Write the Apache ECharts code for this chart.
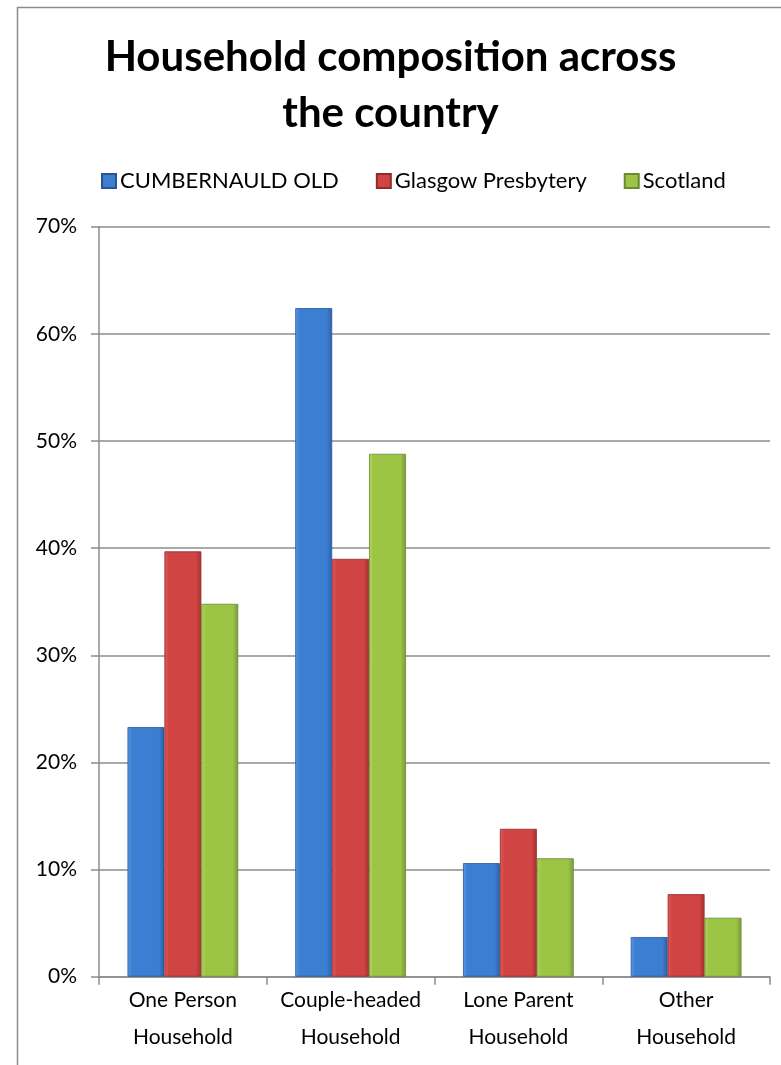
<!DOCTYPE html>
<html><head><meta charset="utf-8">
<script src="https://cdn.jsdelivr.net/npm/echarts@6/dist/echarts.min.js"></script>
<style>html,body{margin:0;padding:0;background:#fff}#c{width:781px;height:1065px}</style>
</head><body><div id="c"></div>
<script>
const categories = ['One Person\nHousehold', 'Couple-headed\nHousehold', 'Lone Parent\nHousehold', 'Other\nHousehold'];
const seriesNames = ['CUMBERNAULD OLD', 'Glasgow Presbytery', 'Scotland'];
const cumbernauldOld = [23.3, 62.4, 10.6, 3.7];
const glasgowPresbytery = [39.7, 39.0, 13.8, 7.7];
const scotland = [34.8, 48.8, 11.05, 5.5];
const yTicks = [0, 10, 20, 30, 40, 50, 60, 70];

function grad(light, mid, dark) {
  return new echarts.graphic.LinearGradient(0, 0, 1, 0, [
    {offset: 0, color: light}, {offset: 0.12, color: mid}, {offset: 0.85, color: mid}, {offset: 1, color: dark}
  ]);
}
const styles = [
  {c: grad('#5a9be6', '#3c7fd2', '#2d5ea8'), b: '#2a5592'},
  {c: grad('#e25a58', '#d04444', '#a83030'), b: '#922a2a'},
  {c: grad('#b4d65a', '#9cc445', '#78993a'), b: '#6a8a30'}
];
const data = [cumbernauldOld, glasgowPresbytery, scotland];
const font = 'Lato, "Open Sans", sans-serif';

const chart = echarts.init(document.getElementById('c'));
chart.setOption({
  animation: false,
  graphic: [{type: 'rect', shape: {x: 17.5, y: 7.5, width: 900, height: 1200}, style: {fill: 'none', stroke: '#8c8c8c', lineWidth: 1.5}, z: 100}],
  title: {
    text: 'Household composition across\nthe country', left: 'center', top: 24,
    textStyle: {fontFamily: font, fontWeight: 'bold', fontSize: 42, lineHeight: 56, color: '#000'}
  },
  legend: {
    top: 165, left: 96, itemGap: 37, itemWidth: 14, itemHeight: 14, icon: 'rect',
    textStyle: {fontFamily: font, fontSize: 22, color: '#000', padding: [0, 0, 0, -1]},
    data: seriesNames
  },
  grid: {left: 99, right: 11, top: 226.7, bottom: 88.3, containLabel: false},
  xAxis: {
    type: 'category', data: categories,
    axisLine: {lineStyle: {color: '#8c8c8c', width: 1.5}},
    axisTick: {show: true, length: 8, lineStyle: {color: '#8c8c8c', width: 1.5}},
    axisLabel: {interval: 0, fontFamily: font, fontSize: 21, color: '#000', lineHeight: 37, margin: 5}
  },
  yAxis: {
    type: 'value', min: yTicks[0], max: yTicks[yTicks.length - 1], interval: 10,
    axisLine: {show: true, lineStyle: {color: '#8c8c8c', width: 1.5}},
    axisTick: {show: true, length: 8, lineStyle: {color: '#8c8c8c', width: 1.5}},
    splitLine: {lineStyle: {color: '#8c8c8c', width: 1.5}},
    axisLabel: {fontFamily: font, fontSize: 21, color: '#000', margin: 22, formatter: '{value}%'}
  },
  series: seriesNames.map((n, i) => ({
    name: n, type: 'bar', data: data[i], barGap: '0%', barCategoryGap: '34%',
    itemStyle: {color: styles[i].c, borderColor: styles[i].b, borderWidth: 0.8}
  }))
});
</script></body></html>
